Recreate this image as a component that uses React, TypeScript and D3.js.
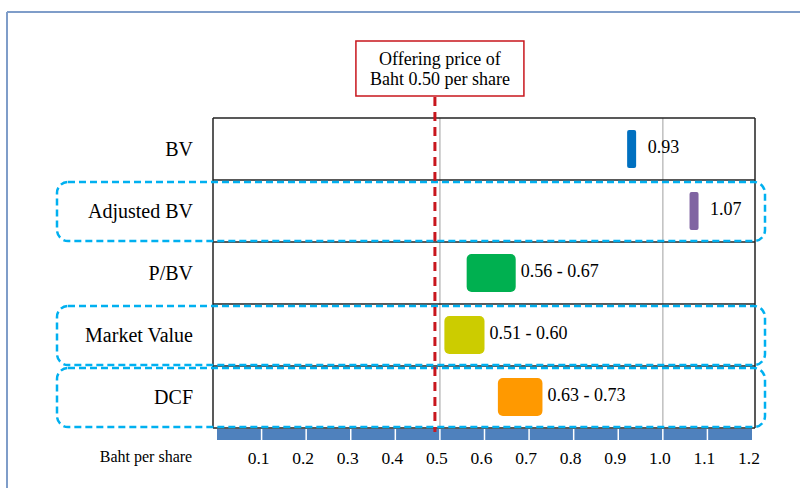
import React from 'react';
import * as d3 from 'd3';

const categories = ['BV', 'Adjusted BV', 'P/BV', 'Market Value', 'DCF'];
const lowValues = [0.93, 1.07, 0.56, 0.51, 0.63];
const highValues = [0.93, 1.07, 0.67, 0.6, 0.73];
const valueLabels = ['0.93', '1.07', '0.56 - 0.67', '0.51 - 0.60', '0.63 - 0.73'];
const barColors = ['#0070C0', '#8064A2', '#00B050', '#CCCC00', '#FF9900'];
const highlighted = [false, true, false, true, true];
const tickValues = [0.1, 0.2, 0.3, 0.4, 0.5, 0.6, 0.7, 0.8, 0.9, 1.0, 1.1, 1.2];
const tickLabels = ['0.1', '0.2', '0.3', '0.4', '0.5', '0.6', '0.7', '0.8', '0.9', '1.0', '1.1', '1.2'];
const referenceLines = [0.5, 1.0];
const offeringPrice = 0.5;
const calloutLines = ['Offering price of', 'Baht 0.50 per share'];
const axisTitle = 'Baht per share';

const FONT = '"Liberation Serif", "Times New Roman", serif';

export default function App() {
  const W = 800;
  const H = 488;
  const x = d3.scaleLinear().domain([0, 1.2]).range([217, 752]);
  const y = d3.scaleBand<string>().domain(categories).range([118, 428]);
  const bw = y.bandwidth();
  const barH = 38;
  const tableL = x(0) - 4;
  const tableR = x(1.2) + 3;
  const axisTop = y.range()[1] + 1;
  const axisH = 11;
  const cx = x(offeringPrice);

  return (
    <svg width={W} height={H} style={{ position: 'absolute', left: 0, top: 0, background: '#fff' }} fontFamily={FONT}>
      {/* outer frame */}
      <line x1={7} y1={12} x2={W} y2={12} stroke="#7F9DC9" strokeWidth={2} />
      <line x1={7} y1={12} x2={7} y2={H} stroke="#7F9DC9" strokeWidth={2} />

      {/* reference grid lines */}
      {referenceLines.map((v) => (
        <line key={v} x1={x(v)} x2={x(v)} y1={y.range()[0]} y2={y.range()[1]} stroke="#BFBFBF" strokeWidth={1.5} />
      ))}

      {/* table lines */}
      {categories.map((c) => (
        <line key={'h' + c} x1={tableL} x2={tableR} y1={y(c)!} y2={y(c)!} stroke="#222" strokeWidth={1.5} />
      ))}
      <line x1={tableL} x2={tableR} y1={y.range()[1]} y2={y.range()[1]} stroke="#222" strokeWidth={1.5} />
      <line x1={tableL} x2={tableL} y1={y.range()[0]} y2={y.range()[1]} stroke="#222" strokeWidth={1.5} />
      <line x1={tableR} x2={tableR} y1={y.range()[0]} y2={y.range()[1]} stroke="#222" strokeWidth={1.5} />

      {/* axis bar */}
      <rect x={x(0)} y={axisTop} width={x(1.2) - x(0)} height={axisH} fill="#4F81BD" />
      {tickValues.slice(0, -1).map((v) => (
        <line key={'s' + v} x1={x(v)} x2={x(v)} y1={axisTop} y2={axisTop + axisH} stroke="#fff" strokeWidth={1.5} />
      ))}
      {tickValues.map((v, i) => (
        <text key={'t' + v} x={x(v) - 3} y={464} textAnchor="middle" fontSize={17.5} fill="#000">
          {tickLabels[i]}
        </text>
      ))}
      <text x={146} y={462} textAnchor="middle" fontSize={16} fill="#000">{axisTitle}</text>

      {/* row labels */}
      {categories.map((c) => (
        <text key={'l' + c} x={193} y={y(c)! + bw / 2 + 7} textAnchor="end" fontSize={20} fill="#000">
          {c}
        </text>
      ))}

      {/* bars */}
      {categories.map((c, i) => {
        const single = lowValues[i] === highValues[i];
        const x0 = single ? x(lowValues[i]) - 4.5 : x(lowValues[i]);
        const w = single ? 9 : x(highValues[i]) - x(lowValues[i]);
        const ty = y(c)! + (bw - barH) / 2;
        const lx = single ? x(highValues[i]) + 16 : x(highValues[i]) + 5;
        return (
          <g key={'b' + c}>
            <rect x={x0} y={ty} width={w} height={barH} rx={single ? 2 : 5} fill={barColors[i]} />
            <text x={lx} y={y(c)! + bw / 2 + 4} fontSize={18} fill="#000">{valueLabels[i]}</text>
          </g>
        );
      })}

      {/* highlight boxes */}
      {categories.map((c, i) =>
        highlighted[i] ? (
          <rect
            key={'hb' + c}
            x={x(0) - 160}
            y={y(c)! + 2}
            width={x(1.2) + 13 - (x(0) - 160)}
            height={bw - 3}
            rx={11}
            fill="none"
            stroke="#00B0F0"
            strokeWidth={2.5}
            strokeDasharray="7 4"
          />
        ) : null
      )}

      {/* offering price line */}
      <line x1={cx - 5} x2={cx - 5} y1={97} y2={y.range()[1] + 4} stroke="#C8161D" strokeWidth={3} strokeDasharray="9 6" />
      <rect x={cx - 84} y={41} width={168} height={55} fill="#fff" stroke="#C8161D" strokeWidth={1.5} />
      {calloutLines.map((t, i) => (
        <text key={t} x={cx} y={65 + i * 20} textAnchor="middle" fontSize={18} fill="#000">{t}</text>
      ))}
    </svg>
  );
}
